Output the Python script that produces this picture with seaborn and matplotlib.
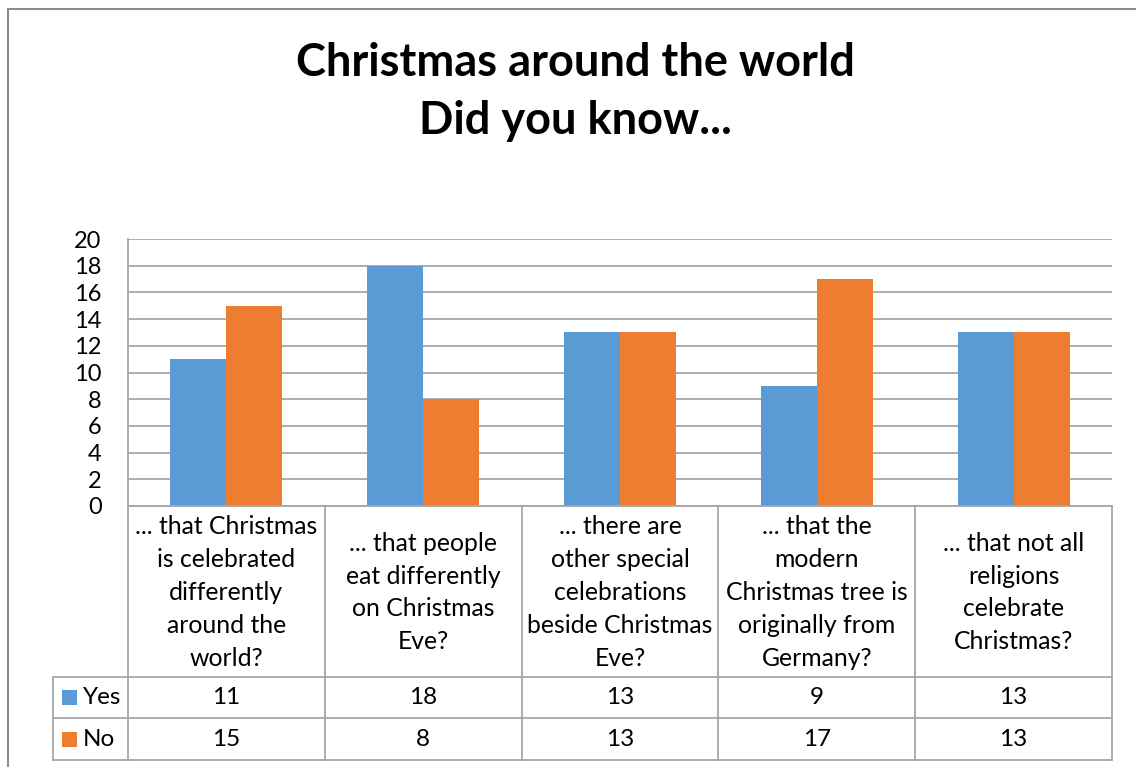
import matplotlib
matplotlib.use("Agg")
import matplotlib.pyplot as plt
import pandas as pd
import seaborn as sns
from matplotlib.lines import Line2D
from matplotlib.patches import Rectangle
from matplotlib.transforms import blended_transform_factory

# Survey data
questions = [
    "... that Christmas\nis celebrated\ndifferently\naround the\nworld?",
    "... that people\neat differently\non Christmas\nEve?",
    "... there are\nother special\ncelebrations\nbeside Christmas\nEve?",
    "... that the\nmodern\nChristmas tree is\noriginally from\nGermany?",
    "... that not all\nreligions\ncelebrate\nChristmas?",
]
series = ["Yes", "No"]
yes_counts = [11, 18, 13, 9, 13]
no_counts = [15, 8, 13, 17, 13]
y_ticks = list(range(0, 21, 2))

colors = ["#5B9BD5", "#ED7D31"]
line_col = "#A6A6A6"
text_col = "#000000"

sns.set_theme(style="white")
plt.rcParams["font.family"] = ["Lato", "DejaVu Sans"]

W, H = 1136, 767
fig = plt.figure(figsize=(W / 100, H / 100), dpi=100)


def fx(px):
    return px / W


def fy(py):
    return 1 - py / H


ax = fig.add_axes([fx(128), fy(506), fx(1112) - fx(128), fy(239) - fy(506)])

df = pd.DataFrame({
    "question": questions * 2,
    "answer": ["Yes"] * len(questions) + ["No"] * len(questions),
    "count": yes_counts + no_counts,
})
sns.barplot(data=df, x="question", y="count", hue="answer", order=questions,
            hue_order=series, palette=colors, width=0.57, saturation=1,
            edgecolor="none", linewidth=0, ax=ax, legend=False)

ax.set_xlim(-0.5, len(questions) - 0.5)
ax.set_ylim(0, 20)
ax.set_yticks(y_ticks)
ax.set_xticks([])
ax.set_xlabel("")
ax.set_ylabel("")
ax.yaxis.grid(True, color=line_col, lw=1.3)
ax.set_axisbelow(True)
for side in ["top", "right"]:
    ax.spines[side].set_visible(False)
for side in ["left", "bottom"]:
    ax.spines[side].set_color(line_col)
    ax.spines[side].set_linewidth(1.3)
ax.tick_params(axis="y", length=0, pad=19, labelsize=17, labelcolor=text_col)

# Title
fig.text(fx(575), fy(76), "Christmas around the world", ha="center", va="baseline",
         fontsize=32.5, fontweight="bold", color=text_col)
fig.text(fx(575), fy(134), "Did you know...", ha="center", va="baseline",
         fontsize=32.5, fontweight="bold", color=text_col)

# Data table below the plot
tr = blended_transform_factory(ax.transData, fig.transFigure)
row_top, row_yes, row_no, row_end = 506, 677, 718, 760
lw = 1.3
for i in range(len(questions) + 1):
    fig.add_artist(Line2D([i - 0.5, i - 0.5], [fy(row_top), fy(row_end)],
                          transform=tr, color=line_col, lw=lw))
fig.add_artist(Line2D([fx(53), fx(53)], [fy(row_yes), fy(row_end)],
                      transform=fig.transFigure, color=line_col, lw=lw))
for yy in [row_yes, row_no, row_end]:
    fig.add_artist(Line2D([fx(53), fx(1112)], [fy(yy), fy(yy)],
                          transform=fig.transFigure, color=line_col, lw=lw))

for i, q in enumerate(questions):
    fig.text(i, fy((row_top + row_yes) / 2 + 1), q, transform=tr, ha="center",
             va="center", fontsize=17.8, linespacing=1.52, color=text_col)
    fig.text(i, fy((row_yes + row_no) / 2), str(yes_counts[i]), transform=tr,
             ha="center", va="center", fontsize=17.5, color=text_col)
    fig.text(i, fy((row_no + row_end) / 2), str(no_counts[i]), transform=tr,
             ha="center", va="center", fontsize=17.5, color=text_col)

for name, col, (r0, r1) in zip(series, colors, [(row_yes, row_no), (row_no, row_end)]):
    yc = (r0 + r1) / 2
    fig.add_artist(Rectangle((fx(62), fy(yc + 7.5)), fx(15), fy(yc - 7.5) - fy(yc + 7.5),
                             transform=fig.transFigure, color=col, lw=0))
    fig.text(fx(83), fy(yc), name, ha="left", va="center", fontsize=17.5, color=text_col)

# Chart frame
frame = "#8C8C8C"
fig.add_artist(Line2D([fx(8), fx(8)], [fy(9), 0], transform=fig.transFigure, color=frame, lw=1.5))
fig.add_artist(Line2D([fx(8), 1], [fy(9), fy(9)], transform=fig.transFigure, color=frame, lw=1.5))

fig.savefig("out.png", dpi=100)
